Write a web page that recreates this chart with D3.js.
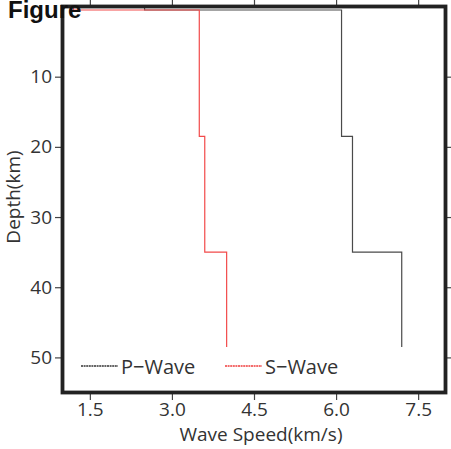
<!DOCTYPE html>
<html>
<head>
<meta charset="utf-8">
<script src="https://cdn.jsdelivr.net/npm/d3@7"></script>
<style>
  body { margin: 0; background: #fff; }
  text { font-family: "Open Sans", "Noto Sans", sans-serif; fill: #333; }
</style>
</head>
<body>
<svg id="chart" width="451" height="449"></svg>
<script>
// layer tops (km) and wave speeds (km/s) for each layer
let layerTop = [0, 0.5, 18.5, 35];
let modelBottom = 48.5;
let pWave = [2.5, 6.1, 6.3, 7.2];
let sWave = [1.2, 3.5, 3.6, 4.0];
let xTicks = [1.5, 3.0, 4.5, 6.0, 7.5];
let yTicks = [10, 20, 30, 40, 50];
let legendNames = ["P\u2212Wave", "S\u2212Wave"];

let svg = d3.select("#chart");
let plotLeft = 62.5, plotRight = 445.5, plotTop = 6.5, plotBottom = 392.5;

let xscale = d3.scaleLinear().domain([1, 8]).range([plotLeft, plotRight]);
let yscale = d3.scaleLinear().domain([0, 55]).range([plotTop, plotBottom]);

// build the step profile from the layer arrays
let profile = function(speeds){
    let pts = speeds.map((v, i) => ({v: v, d: layerTop[i]}));
    pts.push({v: speeds[speeds.length-1], d: modelBottom});
    return pts;
}
let dline = d3.line()
              .x(d => xscale(d.v))
              .y(d => yscale(d.d))
              .curve(d3.curveStepBefore);

let lines = svg.append("g");
lines.append("path")
     .datum(profile(pWave))
     .attr("fill", "none")
     .attr("stroke", "#4a4a4a")
     .attr("stroke-width", 1.2)
     .attr("d", dline);
lines.append("path")
     .datum(profile(sWave))
     .attr("fill", "none")
     .attr("stroke", "#f24a4a")
     .attr("stroke-width", 1.2)
     .attr("d", dline);

// axes
let styleAxis = function(g){
    g.select(".domain").remove();
    g.selectAll(".tick line").attr("stroke", "#444").attr("stroke-width", 1.2);
    g.selectAll(".tick text").style("font-size", "19px").attr("fill", "#333");
}
svg.append("g")
   .attr("transform", `translate(0,${plotBottom + 1.5})`)
   .call(d3.axisBottom(xscale).tickValues(xTicks).tickFormat(d3.format(".1f")).tickSize(6).tickPadding(3))
   .call(styleAxis);
svg.append("g")
   .attr("transform", `translate(0,${plotTop - 1.5})`)
   .call(d3.axisTop(xscale).tickValues(xTicks).tickFormat("").tickSize(6))
   .call(styleAxis);
svg.append("g")
   .attr("transform", `translate(${plotLeft - 1.5},0)`)
   .call(d3.axisLeft(yscale).tickValues(yTicks).tickSize(6).tickPadding(3))
   .call(styleAxis);
svg.append("g")
   .attr("transform", `translate(${plotRight + 1.5},0)`)
   .call(d3.axisRight(yscale).tickValues(yTicks).tickFormat("").tickSize(5))
   .call(styleAxis);

// frame
svg.append("rect")
   .attr("x", plotLeft).attr("y", plotTop)
   .attr("width", plotRight - plotLeft).attr("height", plotBottom - plotTop)
   .attr("fill", "none")
   .attr("stroke", "#222")
   .attr("stroke-width", 3.8);

// axis titles
svg.append("text")
   .attr("x", 261)
   .attr("y", 441)
   .attr("text-anchor", "middle")
   .style("font-size", "19px")
   .text("Wave Speed(km/s)");
svg.append("text")
   .attr("transform", "translate(20,197) rotate(-90)")
   .attr("text-anchor", "middle")
   .style("font-size", "19px")
   .text("Depth(km)");

// legend
let legendColors = ["#333", "#f03c3c"];
let legendX = [81, 225];
let legend = svg.append("g");
legendNames.forEach((name, i) => {
    legend.append("line")
          .attr("x1", legendX[i]).attr("x2", legendX[i] + 37)
          .attr("y1", 366).attr("y2", 366)
          .attr("stroke", legendColors[i])
          .attr("stroke-width", 1.6)
          .attr("stroke-dasharray", "2,0.6");
    legend.append("text")
          .attr("x", legendX[i] + 40)
          .attr("y", 373.5)
          .style("font-size", "20px")
          .text(name);
});

// stray title in the top-left corner
svg.append("text")
   .attr("x", 8).attr("y", 17.5)
   .style("font-family", "'Liberation Sans', Arial, sans-serif")
   .style("font-size", "24px")
   .style("font-weight", "bold")
   .style("fill", "#111")
   .text("Figure");
</script>
</body>
</html>
